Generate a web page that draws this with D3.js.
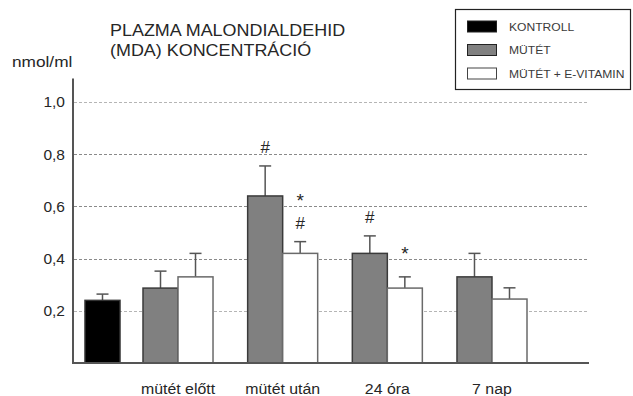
<!DOCTYPE html>
<html>
<head>
<meta charset="utf-8">
<script src="https://cdn.jsdelivr.net/npm/d3@7"></script>
<style>
  html, body { margin: 0; padding: 0; background: #fff; }
  svg { display: block; font-family: "Liberation Sans", Arial, sans-serif; }
</style>
</head>
<body>
<svg id="chart" width="633" height="396"></svg>
<script>
// Plasma MDA concentration (nmol/ml), mean + SD
const categories = ["mütét előtt", "mütét után", "24 óra", "7 nap"];
const kontrollValue = 0.24;
const kontrollErr = 0.024;
const mutetValues = [0.287, 0.64, 0.42, 0.33];
const mutetErr = [0.065, 0.115, 0.067, 0.09];
const vitaminValues = [0.33, 0.42, 0.287, 0.245];
const vitaminErr = [0.09, 0.045, 0.043, 0.043];
const yTicks = [0.2, 0.4, 0.6, 0.8, 1.0];
const legendLabels = ["KONTROLL", "MÜTÉT", "MÜTÉT + E-VITAMIN"];
// significance marks: # vs kontroll, * vs mütét
const marks = [
  { cat: "mütét után", series: "mutet", symbols: ["#"] },
  { cat: "mütét után", series: "vitamin", symbols: ["#", "*"] },
  { cat: "24 óra", series: "mutet", symbols: ["#"] },
  { cat: "24 óra", series: "vitamin", symbols: ["*"] }
];

const svg = d3.select("#chart");
const textColor = "#262626";
const axisColor = "#555";

const y = d3.scaleLinear().domain([0, 1.0]).range([363, 102]);
const x = d3.scaleBand().domain(categories).range([143, 527]).paddingInner(0.331).paddingOuter(0);
const xs = d3.scaleBand().domain(["mutet", "vitamin"]).range([0, x.bandwidth()]).padding(0);
const barW = xs.bandwidth();
const axisX = 73, axisRight = 589;
const kontrollX = x(categories[0]) - 23 - barW;

const fills = { kontroll: "#000", mutet: "#808080", vitamin: "#fff" };
const strokes = { kontroll: "#333", mutet: "#3a3a3a", vitamin: "#6a6a6a" };

function stretchedText(sel, tx, ty, s) {
  return sel.attr("transform", `translate(${tx},${ty}) scale(${s},1)`);
}

// dashed gridlines
svg.append("g").selectAll("line").data(yTicks).join("line")
  .attr("x1", axisX + 1).attr("x2", axisRight)
  .attr("y1", d => Math.round(y(d)) + 0.5).attr("y2", d => Math.round(y(d)) + 0.5)
  .attr("stroke", d => d === 1.0 || d === 0.2 ? "#b5b5b5" : "#8a8a8a")
  .attr("stroke-width", 1).attr("stroke-dasharray", "3,2");

// y axis tick labels
const yAxis = d3.axisLeft(y).tickValues(yTicks).tickSize(0).tickPadding(8)
  .tickFormat(d => d3.format(".1f")(d).replace(".", ","));
const yg = svg.append("g").attr("transform", `translate(${axisX},0)`).call(yAxis);
yg.select(".domain").remove();
yg.selectAll("text").attr("font-size", 15.5).attr("fill", textColor)
  .attr("font-family", "Liberation Sans, Arial, sans-serif");

// error bars (drawn first so bars cover the lower half)
function errorBar(g, cx, v, e, color) {
  g.append("line").attr("x1", cx).attr("x2", cx).attr("y1", y(v)).attr("y2", y(v + e))
    .attr("stroke", color).attr("stroke-width", 1.5);
  g.append("line").attr("x1", cx - 6).attr("x2", cx + 6).attr("y1", y(v + e)).attr("y2", y(v + e))
    .attr("stroke", color).attr("stroke-width", 1.5);
}

const bars = svg.append("g");
// kontroll bar
errorBar(bars, kontrollX + barW / 2, kontrollValue, kontrollErr, "#555");
bars.append("rect").attr("x", kontrollX).attr("y", y(kontrollValue))
  .attr("width", barW).attr("height", y(0) - y(kontrollValue))
  .attr("fill", fills.kontroll).attr("stroke", strokes.kontroll).attr("stroke-width", 1.5);

const seriesData = [];
categories.forEach((c, i) => {
  seriesData.push({ cat: c, series: "mutet", v: mutetValues[i], e: mutetErr[i] });
  seriesData.push({ cat: c, series: "vitamin", v: vitaminValues[i], e: vitaminErr[i] });
});
seriesData.forEach(d => {
  const bx = x(d.cat) + xs(d.series);
  errorBar(bars, bx + barW / 2, d.v, d.e, "#555");
  bars.append("rect").attr("x", bx).attr("y", y(d.v))
    .attr("width", barW).attr("height", y(0) - y(d.v))
    .attr("fill", fills[d.series]).attr("stroke", strokes[d.series]).attr("stroke-width", 1.5);
});

// significance symbols, stacked above the error bar
marks.forEach(m => {
  const d = seriesData.find(s => s.cat === m.cat && s.series === m.series);
  const cx = x(d.cat) + xs(d.series) + barW / 2;
  m.symbols.forEach((sym, k) => {
    const isStar = sym === "*";
    svg.append("text").attr("x", cx).attr("y", y(d.v + d.e) - (isStar ? 17 : 13) - k * 18)
      .attr("text-anchor", "middle").attr("font-size", isStar ? 19 : 17).attr("fill", textColor)
      .text(sym);
  });
});

// axes lines
svg.append("line").attr("x1", axisX).attr("x2", axisX).attr("y1", y(1.09)).attr("y2", y(0) + 1)
  .attr("stroke", axisColor).attr("stroke-width", 2);
svg.append("line").attr("x1", axisX - 1).attr("x2", axisRight).attr("y1", y(0)).attr("y2", y(0))
  .attr("stroke", axisColor).attr("stroke-width", 2);

// category labels
categories.forEach(c => {
  stretchedText(svg.append("text"), x(c) + x.bandwidth() / 2, 394, 1.06)
    .attr("text-anchor", "middle").attr("font-size", 15).attr("fill", textColor).text(c);
});

// unit label
stretchedText(svg.append("text"), 12, 67, 1.15)
  .attr("font-size", 15).attr("fill", textColor).text("nmol/ml");

// title
stretchedText(svg.append("text"), 110, 36, 1.15)
  .attr("font-size", 15.6).attr("fill", textColor).text("PLAZMA MALONDIALDEHID");
stretchedText(svg.append("text"), 110, 56, 1.15)
  .attr("font-size", 15.6).attr("fill", textColor).text("(MDA) KONCENTRÁCIÓ");

// legend
const lg = svg.append("g");
lg.append("rect").attr("x", 455.5).attr("y", 9.5).attr("width", 175).attr("height", 80)
  .attr("fill", "#fff").attr("stroke", "#222").attr("stroke-width", 1.2);
const legendKeys = ["kontroll", "mutet", "vitamin"];
legendKeys.forEach((k, i) => {
  const ry = 21 + i * 23.5;
  lg.append("rect").attr("x", 467.5).attr("y", ry).attr("width", 29).attr("height", 11)
    .attr("fill", fills[k]).attr("stroke", k === "vitamin" ? "#444" : "#222").attr("stroke-width", 1);
  stretchedText(lg.append("text"), 509, ry + 9.5, 1.1)
    .attr("font-size", 11).attr("fill", "#3a3a3a").text(legendLabels[i]);
});
</script>
</body>
</html>
